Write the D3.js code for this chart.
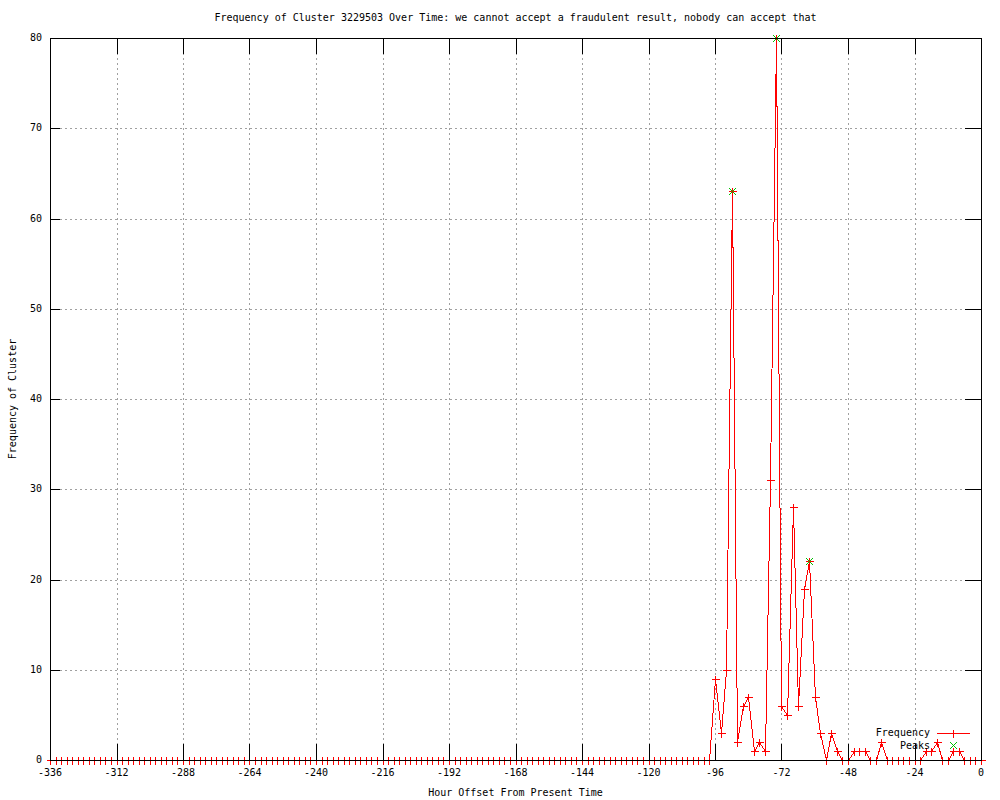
<!DOCTYPE html>
<html>
<head>
<meta charset="utf-8">
<script src="https://cdn.jsdelivr.net/npm/d3@7"></script>
<style>
    body { margin: 0; background: #fff; }
    text { font-family: "DejaVu Sans Mono", "Liberation Mono", monospace; font-size: 10px; fill: #000; }
    path, line, rect { shape-rendering: crispEdges; fill: none; }
</style>
</head>
<body>
<div id="chart"></div>
<script>
// hour offsets, one sample every 2 hours from -336 to 0
var hours = d3.range(-336, 1, 2);

// frequency per sample (-336 .. 0)
var frequency = [
    0, 0, 0, 0, 0, 0, 0, 0, 0, 0, 0, 0, 0, 0, 0, 0, 0, 0, 0, 0,
    0, 0, 0, 0, 0, 0, 0, 0, 0, 0, 0, 0, 0, 0, 0, 0, 0, 0, 0, 0,
    0, 0, 0, 0, 0, 0, 0, 0, 0, 0, 0, 0, 0, 0, 0, 0, 0, 0, 0, 0,
    0, 0, 0, 0, 0, 0, 0, 0, 0, 0, 0, 0, 0, 0, 0, 0, 0, 0, 0, 0,
    0, 0, 0, 0, 0, 0, 0, 0, 0, 0, 0, 0, 0, 0, 0, 0, 0, 0, 0, 0,
    0, 0, 0, 0, 0, 0, 0, 0, 0, 0, 0, 0, 0, 0, 0, 0, 0, 0, 0, 0,
    9, 3, 10, 63, 2, 6, 7, 1, 2, 1, 31, 80, 6, 5, 28, 6, 19, 22, 7, 3,
    0, 3, 1, 0, 0, 1, 1, 1, 0, 0, 2, 0, 0, 0, 0, 0, 0, 0, 1, 1,
    2, 0, 0, 1, 1, 0, 0, 0, 0, 0
];

var peakHours = [-90, -74, -62];
var peakValues = [63, 80, 22];

var xTicks = d3.range(-336, 1, 24);
var yTicks = [0, 10, 20, 30, 40, 50, 60, 70, 80];

var titleText = "Frequency of Cluster 3229503 Over Time: we cannot accept a fraudulent result, nobody can accept that";

var margin = { top: 38, left: 50, right: 19, bottom: 40 },
    width = 1000,
    height = 800,
    plotW = width - margin.left - margin.right,
    plotH = height - margin.top - margin.bottom;

var svg = d3.select("#chart")
    .append("svg")
    .attr("width", width)
    .attr("height", height)
    .style("display", "block");

var x = d3.scaleLinear().domain([-336, 0]).range([margin.left, margin.left + plotW]);
var y = d3.scaleLinear().domain([0, 80]).range([margin.top + plotH, margin.top]);

var bottom = margin.top + plotH,
    right = margin.left + plotW;

// dotted grid
var grid = svg.append("g")
    .attr("stroke", "#a0a0a0")
    .attr("stroke-width", 1)
    .attr("stroke-dasharray", "2,3");

grid.selectAll(".vg")
    .data(xTicks.slice(1, -1))
    .enter().append("line")
    .attr("x1", d => Math.round(x(d)) + 0.5)
    .attr("x2", d => Math.round(x(d)) + 0.5)
    .attr("y1", margin.top)
    .attr("y2", bottom);

grid.selectAll(".hg")
    .data(yTicks.slice(1, -1))
    .enter().append("line")
    .attr("y1", d => Math.round(y(d)) + 0.5)
    .attr("y2", d => Math.round(y(d)) + 0.5)
    .attr("x1", margin.left)
    .attr("x2", right);

// frequency line + markers
var line = d3.line()
    .x((d, i) => Math.round(x(hours[i])) + 0.5)
    .y(d => Math.round(y(d)) + 0.5);

svg.append("path")
    .datum(frequency)
    .attr("d", line)
    .attr("stroke", "#ff0000")
    .attr("stroke-width", 1);

function plus(cx, cy, r) {
    return "M" + (cx - r) + "," + cy + "H" + (cx + r) + "M" + cx + "," + (cy - r) + "V" + (cy + r);
}
function cross(cx, cy, r) {
    return "M" + (cx - r) + "," + (cy - r) + "L" + (cx + r) + "," + (cy + r) +
        "M" + (cx - r) + "," + (cy + r) + "L" + (cx + r) + "," + (cy - r);
}

svg.append("g")
    .selectAll("path")
    .data(frequency)
    .enter().append("path")
    .attr("d", (d, i) => plus(Math.round(x(hours[i])) + 0.5, Math.round(y(d)) + 0.5, 4))
    .attr("stroke", "#ff0000")
    .attr("stroke-width", 1);

// peaks
svg.append("g")
    .selectAll("path")
    .data(peakValues)
    .enter().append("path")
    .attr("d", (d, i) => cross(Math.round(x(peakHours[i])) + 0.5, Math.round(y(d)) + 0.5, 3.5))
    .attr("stroke", "#00c000")
    .attr("stroke-width", 1);

// border and ticks
svg.append("rect")
    .attr("x", margin.left + 0.5)
    .attr("y", margin.top + 0.5)
    .attr("width", plotW)
    .attr("height", plotH)
    .attr("stroke", "#000");

var ticks = svg.append("g").attr("stroke", "#000");
xTicks.forEach(function (t) {
    var px = Math.round(x(t)) + 0.5;
    ticks.append("line").attr("x1", px).attr("x2", px).attr("y1", bottom).attr("y2", bottom - 16);
    ticks.append("line").attr("x1", px).attr("x2", px).attr("y1", margin.top).attr("y2", margin.top + 16);
});
yTicks.forEach(function (t) {
    var py = Math.round(y(t)) + 0.5;
    ticks.append("line").attr("y1", py).attr("y2", py).attr("x1", margin.left).attr("x2", margin.left + 10);
    ticks.append("line").attr("y1", py).attr("y2", py).attr("x1", right).attr("x2", right - 16);
});

// tick labels
svg.append("g")
    .selectAll("text")
    .data(xTicks)
    .enter().append("text")
    .attr("x", d => x(d))
    .attr("y", bottom + 13)
    .attr("dominant-baseline", "middle")
    .attr("text-anchor", "middle")
    .text(d => d);

svg.append("g")
    .selectAll("text")
    .data(yTicks)
    .enter().append("text")
    .attr("x", margin.left - 8)
    .attr("y", d => y(d))
    .attr("dominant-baseline", "middle")
    .attr("text-anchor", "end")
    .text(d => d);

// titles
svg.append("text")
    .attr("x", (margin.left + right) / 2)
    .attr("y", 18)
    .attr("dominant-baseline", "middle")
    .attr("text-anchor", "middle")
    .text(titleText);

svg.append("text")
    .attr("x", (margin.left + right) / 2)
    .attr("y", 793)
    .attr("dominant-baseline", "middle")
    .attr("text-anchor", "middle")
    .text("Hour Offset From Present Time");

svg.append("text")
    .attr("transform", "translate(13," + (margin.top + plotH / 2) + ")rotate(-90)")
    .attr("dominant-baseline", "middle")
    .attr("text-anchor", "middle")
    .text("Frequency of Cluster");

// legend
var legend = svg.append("g");
legend.append("text").attr("x", 930).attr("y", 733).attr("dominant-baseline", "middle")
    .attr("text-anchor", "end").text("Frequency");
legend.append("line").attr("x1", 937).attr("x2", 970).attr("y1", 733.5).attr("y2", 733.5)
    .attr("stroke", "#ff0000");
legend.append("path").attr("d", plus(953.5, 733.5, 4)).attr("stroke", "#ff0000");
legend.append("text").attr("x", 930).attr("y", 746).attr("dominant-baseline", "middle")
    .attr("text-anchor", "end").text("Peaks");
legend.append("path").attr("d", cross(953.5, 745.5, 3.5)).attr("stroke", "#00c000");
</script>
</body>
</html>
